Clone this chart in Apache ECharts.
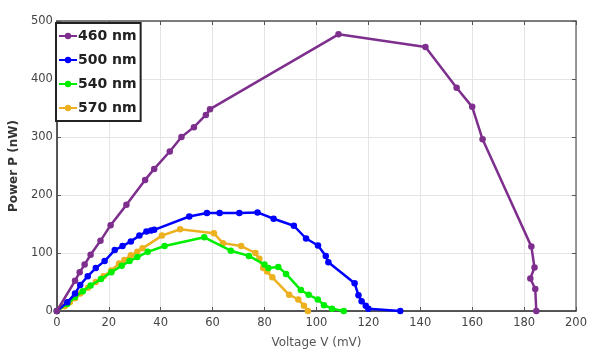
<!DOCTYPE html>
<html><head><meta charset="utf-8">
<script src="https://cdn.jsdelivr.net/npm/echarts@6/dist/echarts.min.js"></script>
<style>html,body{margin:0;padding:0;background:#fff}#c{width:590px;height:354px}</style>
</head><body><div id="c"></div>
<script>
const seriesNames = ['460 nm', '500 nm', '540 nm', '570 nm'];
const seriesColors = ['#7E2F8E', '#0000FF', '#00EE00', '#EDB120'];
const xTicks = [0, 20, 40, 60, 80, 100, 120, 140, 160, 180, 200];
const yTicks = [0, 100, 200, 300, 400, 500];

const data460 = [[0,0],[7,52],[8.8,67],[10.7,80],[13,97],[16.8,121],[20.7,148],[26.8,183],[34,226],[37.5,245],[43.5,275],[48,300],[52.8,317],[57.4,338],[59,348],[108.5,477],[142,455],[154,385],[160,352],[164,296],[182.8,111],[184,75],[182.4,56],[184.3,38],[184.7,0]];
const data500 = [[0,0],[4,15],[7,30],[9,45],[11.9,60],[15,74],[18.4,86],[22.3,105],[25.3,112],[28.5,120],[31.8,130],[34.5,137],[36.3,139],[37.5,140],[51,163],[57.8,169],[62.7,169],[70.3,169],[77.3,170],[83.5,159],[91.3,147],[96,125],[100.6,113],[103.6,95],[104.6,84],[114.7,48],[116.2,27],[117.4,17],[119,9],[120,4],[132.3,0]];
const data540 = [[0,0],[4,12],[7,24],[10,34],[13,44],[17,55],[21,67],[25,78],[28,86],[31,93],[35,102],[41.5,112],[56.8,127],[67,104],[74,95],[80,80],[81.5,74],[85.3,76],[88.3,64],[94,36],[97,28],[100.5,20],[102.9,10],[106,4],[110.5,0]];
const data570 = [[0,0],[3,8],[5,15],[7,22],[9,30],[12,40],[15,50],[18,60],[21,70],[24,82],[26,88],[28.5,96],[31,102],[33,108],[40.5,130],[47.5,141],[60.5,134],[64,117],[71,112],[76.5,100],[78,90],[79.5,74],[81,68],[83,58],[89.5,28],[93,20],[95.2,9],[96.7,0]];
const allData = [data460, data500, data540, data570];

const FONT = 'DejaVu Sans';
const chart = echarts.init(document.getElementById('c'), null, {renderer: 'canvas'});
const gridLine = {show: true, lineStyle: {color: '#e4e4e4', width: 1}};
const axisBase = {
  type: 'value', interval: 20, min: xTicks[0], max: xTicks[xTicks.length - 1]
};
chart.setOption({
  animation: false,
  backgroundColor: '#fff',
  grid: {left: 54, right: 13, top: 21, bottom: 41, containLabel: false},
  legend: {
    orient: 'vertical', left: 56, top: 23,
    data: seriesNames,
    backgroundColor: '#fff', borderColor: '#222', borderWidth: 2, borderRadius: 0,
    padding: [6, 4, 6, 2], itemGap: 10, itemWidth: 18, itemHeight: 8,
    textStyle: {fontFamily: FONT, fontSize: 14, fontWeight: 'bold', color: '#222', padding: [0, 0, 0, -4]}
  },
  xAxis: [{
    ...axisBase, position: 'bottom',
    name: 'Voltage V (mV)', nameLocation: 'middle', nameGap: 26,
    nameTextStyle: {fontFamily: FONT, fontSize: 12, color: '#555'},
    axisLine: {show: true, onZero: false, lineStyle: {color: '#222', width: 1.5}},
    axisTick: {show: true, inside: true, length: 4, lineStyle: {color: '#555'}},
    axisLabel: {fontFamily: FONT, fontSize: 11.5, color: '#444', margin: 6, formatter: v => xTicks.includes(v) ? String(v) : ''},
    splitLine: gridLine
  }, {
    ...axisBase, position: 'top',
    axisLine: {show: true, onZero: false, lineStyle: {color: '#555', width: 1.5}},
    axisTick: {show: true, inside: true, length: 4, lineStyle: {color: '#555'}},
    axisLabel: {show: false}, splitLine: {show: false}
  }],
  yAxis: [{
    type: 'value', min: yTicks[0], max: yTicks[yTicks.length - 1], interval: 100, position: 'left',
    name: 'Power P (nW)', nameLocation: 'middle', nameGap: 30, nameRotate: 90,
    nameTextStyle: {fontFamily: FONT, fontSize: 12, fontWeight: 'bold', color: '#333'},
    axisLine: {show: true, onZero: false, lineStyle: {color: '#222', width: 1.5}},
    axisTick: {show: true, inside: true, length: 4, lineStyle: {color: '#555'}},
    axisLabel: {fontFamily: FONT, fontSize: 11.5, color: '#444', margin: 4},
    splitLine: gridLine
  }, {
    type: 'value', min: yTicks[0], max: yTicks[yTicks.length - 1], interval: 100, position: 'right',
    axisLine: {show: true, onZero: false, lineStyle: {color: '#777', width: 1.5}},
    axisTick: {show: true, inside: true, length: 4, lineStyle: {color: '#555'}},
    axisLabel: {show: false}, splitLine: {show: false}
  }],
  series: seriesNames.map((name, i) => ({
    name, type: 'line', data: allData[i], xAxisIndex: 0, yAxisIndex: 0,
    symbol: 'circle', symbolSize: 6.5, showSymbol: true,
    lineStyle: {color: seriesColors[i], width: 2.5},
    itemStyle: {color: seriesColors[i]},
    z: 10 - i
  }))
});
</script></body></html>
